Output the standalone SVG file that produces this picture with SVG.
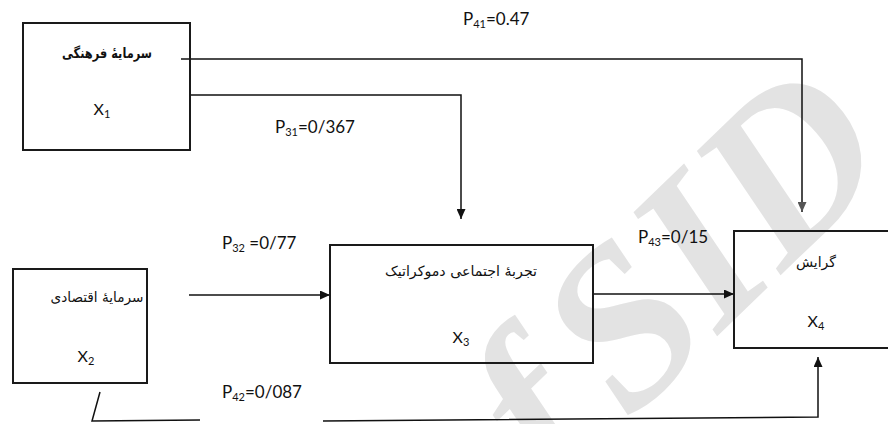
<svg xmlns="http://www.w3.org/2000/svg" width="888" height="424" viewBox="0 0 888 424">
<style>
.box{fill:none;stroke:#1a1a1a;stroke-width:2}
.ln{fill:none;stroke:#111;stroke-width:1.5}
.fa{font-family:"DejaVu Sans","Noto Sans",sans-serif;font-size:14px;fill:#111;text-anchor:middle}
.lab{font-family:Lato,"Liberation Sans",sans-serif;font-size:17px;fill:#111}
.x{font-family:Lato,"Liberation Sans",sans-serif;font-size:16px;fill:#111;text-anchor:middle}
.sub{font-size:11px}
.wm{font-family:"Liberation Serif",serif;font-style:italic;font-weight:bold;font-size:225px;fill:#e3e3e3;word-spacing:-30px}
</style>
<defs>
<marker id="ah" markerUnits="userSpaceOnUse" markerWidth="10" markerHeight="9" refX="10" refY="4.5" orient="auto"><path d="M0,0 L10,4.5 L0,9 z" fill="#111"/></marker>
<marker id="ahg" markerUnits="userSpaceOnUse" markerWidth="10" markerHeight="9" refX="10" refY="4.5" orient="auto"><path d="M0,0 L10,4.5 L0,9 z" fill="#555"/></marker>
</defs>
<rect width="888" height="424" fill="#fff"/>
<text class="wm" x="0" y="0" transform="translate(556,492) rotate(-44)">f SID</text>
<g id="connectors">
<polyline class="ln" points="181,59 802,59 802,212" marker-end="url(#ahg)"/>
<polyline class="ln" points="190,95 461,95 461,219" marker-end="url(#ah)"/>
<line class="ln" x1="189" y1="295" x2="330" y2="295" marker-end="url(#ah)"/>
<line class="ln" x1="593" y1="294" x2="734" y2="294" marker-end="url(#ah)"/>
<polyline class="ln" points="100,392 92,421 200,420"/>
<polyline class="ln" points="323,421 818,417 818,357" marker-end="url(#ah)"/>
</g>
<g id="x1">
<rect class="box" x="23" y="23" width="167" height="127"/>
<text class="fa" x="107" y="58" font-weight="bold" textLength="90" lengthAdjust="spacingAndGlyphs">سرمایهٔ فرهنگی</text>
<text class="x" x="102" y="115">X<tspan class="sub" dy="3">1</tspan></text>
</g>
<g id="x2">
<rect class="box" x="13" y="269" width="134" height="114"/>
<text class="fa" x="97" y="302" textLength="93" lengthAdjust="spacingAndGlyphs">سرمایهٔ اقتصادی</text>
<text class="x" x="86" y="362">X<tspan class="sub" dy="3">2</tspan></text>
</g>
<g id="x3">
<rect class="box" x="330" y="245" width="263" height="118"/>
<text class="fa" x="461" y="276" textLength="152" lengthAdjust="spacingAndGlyphs">تجربهٔ اجتماعی دموکراتیک</text>
<text class="x" x="461" y="343">X<tspan class="sub" dy="3">3</tspan></text>
</g>
<g id="x4">
<rect class="box" x="734" y="231" width="200" height="117" stroke="#444"/>
<text class="fa" x="816" y="267" fill="#555">گرایش</text>
<text class="x" x="816" y="327">X<tspan class="sub" dy="3">4</tspan></text>
</g>
<g id="labels">
<text class="lab" x="463" y="25">P<tspan class="sub" dy="3">41</tspan><tspan dy="-3">=0.47</tspan></text>
<text class="lab" x="275" y="133">P<tspan class="sub" dy="3">31</tspan><tspan dy="-3">=0/367</tspan></text>
<text class="lab" x="222" y="249">P<tspan class="sub" dy="3">32</tspan><tspan dy="-3"> =0/77</tspan></text>
<text class="lab" x="638" y="243">P<tspan class="sub" dy="3">43</tspan><tspan dy="-3">=0/15</tspan></text>
<text class="lab" x="222" y="398">P<tspan class="sub" dy="3">42</tspan><tspan dy="-3">=0/087</tspan></text>
</g>
</svg>
